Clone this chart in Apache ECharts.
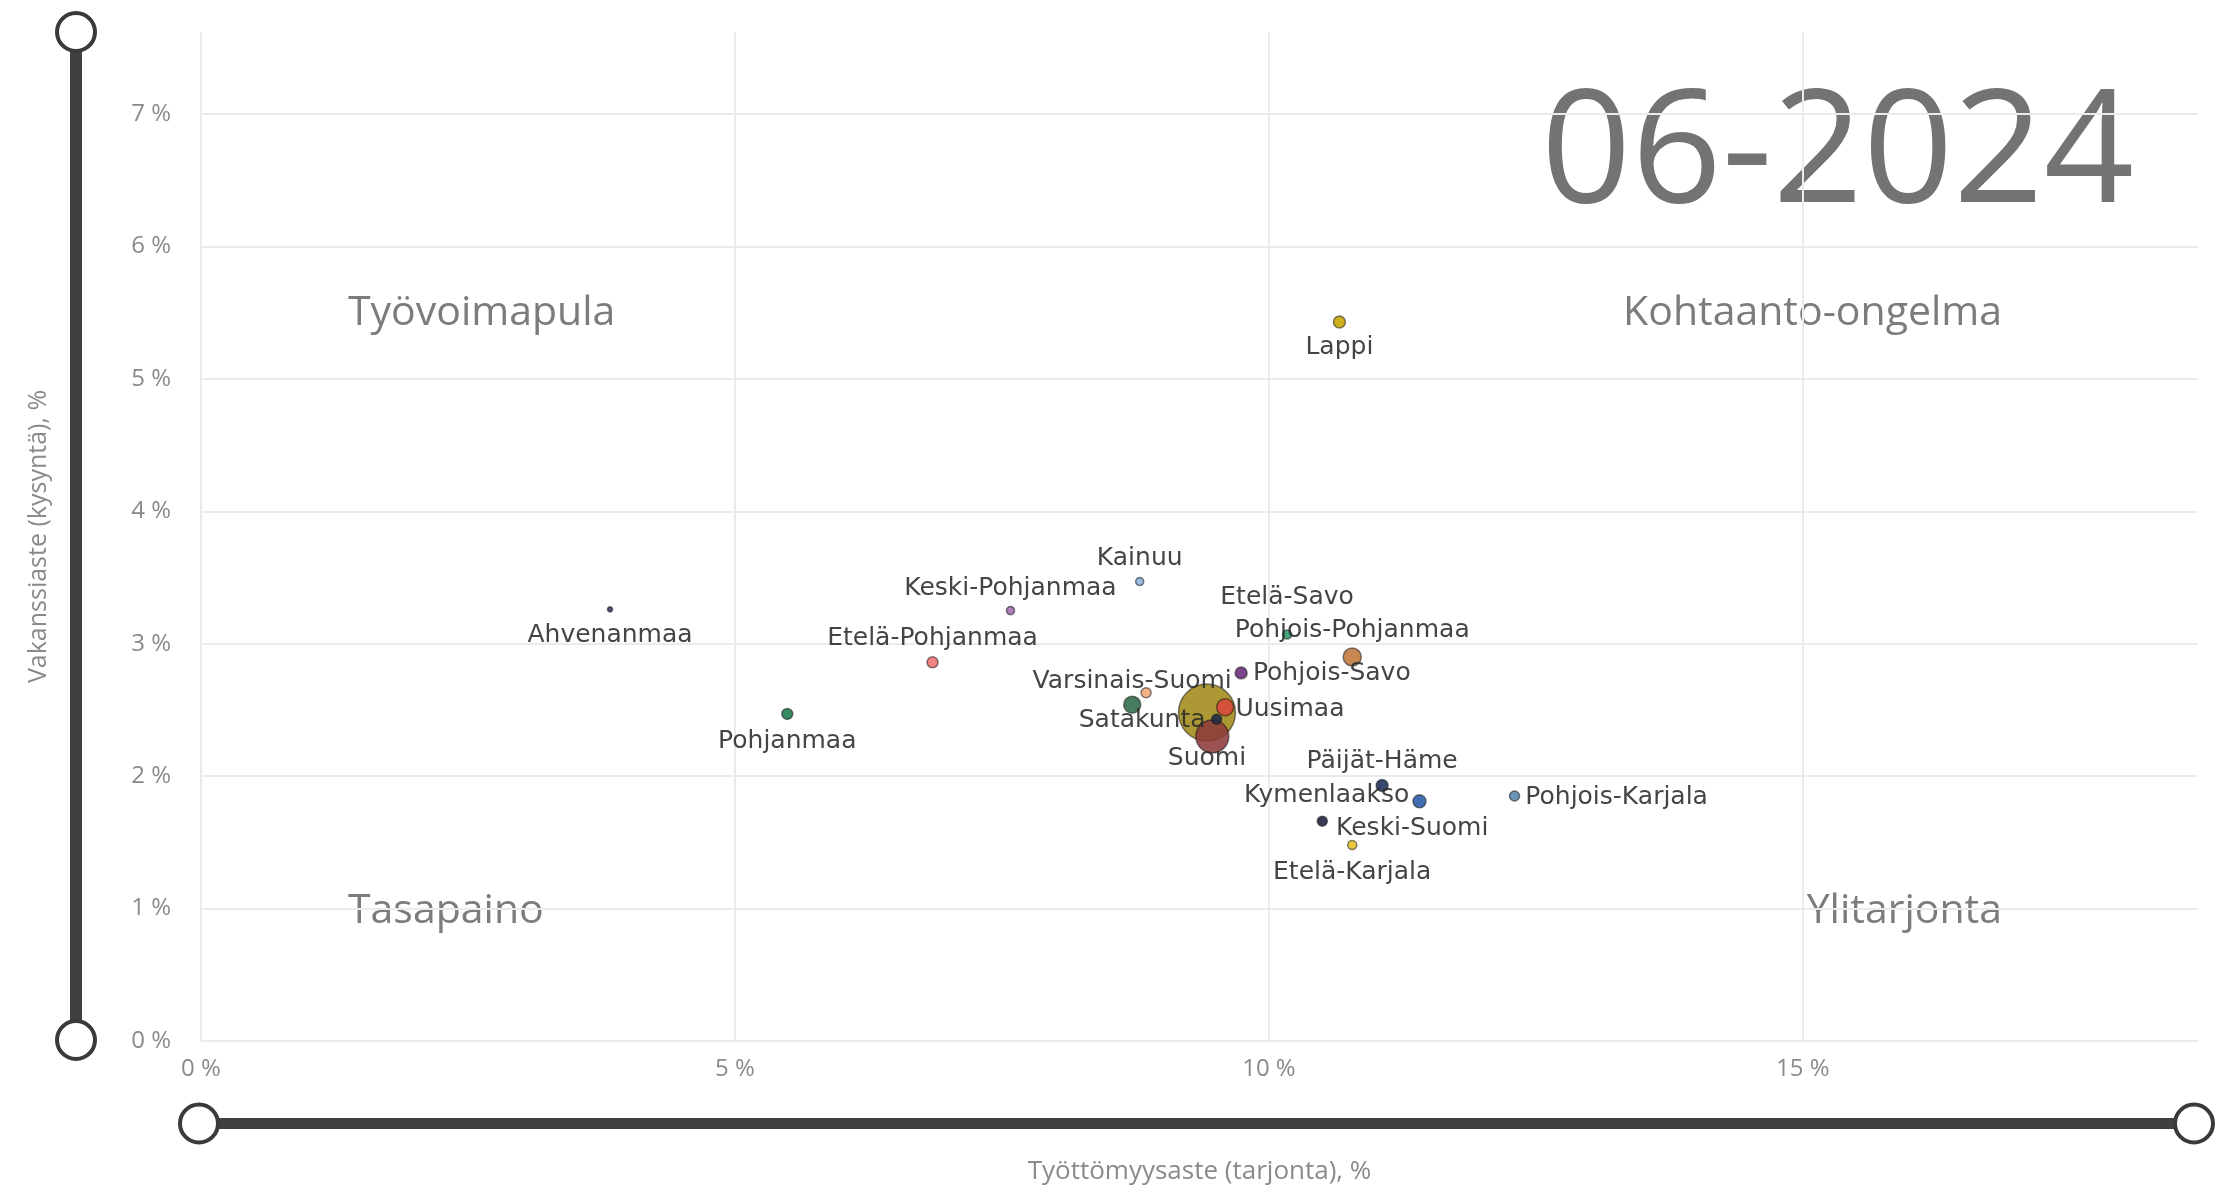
<!DOCTYPE html>
<html>
<head>
<meta charset="utf-8">
<title>Vakanssiaste ja työttömyysaste 06-2024</title>
<script src="https://cdn.jsdelivr.net/npm/echarts@6/dist/echarts.min.js"></script>
<style>
  html, body { margin: 0; padding: 0; background: #fff; }
  #chart { width: 2216px; height: 1187px; }
</style>
</head>
<body>
<div id="chart"></div>
<script>
// maakunnat + koko maa (piirtojärjestys: isot kuplat ensin)
var regions = ['Suomi', 'Pirkanmaa', 'Uusimaa', 'Kanta-Häme', 'Varsinais-Suomi', 'Satakunta',
  'Lappi', 'Kainuu', 'Keski-Pohjanmaa', 'Ahvenanmaa', 'Etelä-Pohjanmaa', 'Pohjanmaa',
  'Etelä-Savo', 'Pohjois-Pohjanmaa', 'Pohjois-Savo', 'Päijät-Häme', 'Kymenlaakso',
  'Pohjois-Karjala', 'Keski-Suomi', 'Etelä-Karjala']
// työttömyysaste (tarjonta), %
var unemploymentRate = [9.42, 9.47, 9.59, 9.51, 8.72, 8.85,
  10.66, 8.79, 7.58, 3.83, 6.85, 5.49,
  10.17, 10.78, 9.74, 11.06, 11.41,
  12.30, 10.50, 10.78]
// vakanssiaste (kysyntä), %
var vacancyRate = [2.48, 2.30, 2.52, 2.43, 2.54, 2.63,
  5.43, 3.47, 3.25, 3.26, 2.86, 2.47,
  3.07, 2.90, 2.78, 1.93, 1.81,
  1.85, 1.66, 1.48]
// kuplan koko, suhteellinen (Suomi = 100)
var bubbleSize = [100, 33.5, 8.9, 3.1, 8.9, 3.1,
  4.4, 2.0, 2.0, 0.8, 3.7, 3.7,
  2.5, 10, 4.4, 4.4, 5.2,
  3.1, 3.1, 2.5]
var xTicks = [0, 5, 10, 15]
var yTicks = [0, 1, 2, 3, 4, 5, 6, 7]
var period = '06-2024'
var quadrantNames = ['Työvoimapula', 'Kohtaanto-ongelma', 'Tasapaino', 'Ylitarjonta']

// värit
var colors = {
  'Suomi': '#a08a18',
  'Pirkanmaa': '#8c3a3a',
  'Uusimaa': '#d8483a',
  'Kanta-Häme': '#1e2a48',
  'Varsinais-Suomi': '#2e6a4a',
  'Satakunta': '#f0a878',
  'Lappi': '#c9a400',
  'Kainuu': '#8db3d9',
  'Keski-Pohjanmaa': '#a070b0',
  'Ahvenanmaa': '#3a3a6a',
  'Etelä-Pohjanmaa': '#f07070',
  'Pohjanmaa': '#1d7a50',
  'Etelä-Savo': '#2a9a68',
  'Pohjois-Pohjanmaa': '#c0783c',
  'Pohjois-Savo': '#6a2c80',
  'Päijät-Häme': '#1e2c5c',
  'Kymenlaakso': '#2a5aa8',
  'Pohjois-Karjala': '#5a88b0',
  'Keski-Suomi': '#1a2040',
  'Etelä-Karjala': '#e8c020'
}

// nimilappujen sijoittelu (puuttuva = ei nimeä)
var labelPlace = {
  'Suomi': { position: 'inside', offset: [0, 46] },
  'Uusimaa': { position: 'right', distance: 1, offset: [0, 2] },
  'Varsinais-Suomi': { position: 'inside', offset: [0, -23] },
  'Satakunta': { position: 'inside', offset: [-4, 28] },
  'Lappi': { position: 'inside', offset: [0, 26] },
  'Kainuu': { position: 'inside', offset: [0, -23] },
  'Keski-Pohjanmaa': { position: 'inside', offset: [0, -22] },
  'Ahvenanmaa': { position: 'inside', offset: [0, 26] },
  'Etelä-Pohjanmaa': { position: 'inside', offset: [0, -24] },
  'Pohjanmaa': { position: 'inside', offset: [0, 28] },
  'Etelä-Savo': { position: 'inside', offset: [0, -37] },
  'Pohjois-Pohjanmaa': { position: 'inside', offset: [0, -26] },
  'Pohjois-Savo': { position: 'right', distance: 5, offset: [0, 1] },
  'Päijät-Häme': { position: 'inside', offset: [0, -24] },
  'Kymenlaakso': { position: 'left', distance: 3, offset: [0, -6] },
  'Pohjois-Karjala': { position: 'right', distance: 5, offset: [0, 1] },
  'Keski-Suomi': { position: 'right', distance: 8, offset: [0, 7] },
  'Etelä-Karjala': { position: 'inside', offset: [0, 27] }
}

var pointData = regions.map(function (name, i) {
  var place = labelPlace[name]
  var label = place ? Object.assign({ show: true }, place) : { show: false }
  return {
    name: name,
    value: [unemploymentRate[i], vacancyRate[i], bubbleSize[i]],
    itemStyle: { color: colors[name] },
    label: label
  }
})

var sliderCommon = {
  type: 'slider',
  filterMode: 'none',
  start: 0,
  end: 100,
  showDetail: false,
  showDataShadow: false,
  brushSelect: false,
  zoomLock: true,
  backgroundColor: 'transparent',
  borderColor: 'transparent',
  fillerColor: '#404040',
  handleIcon: 'circle',
  handleSize: 38,
  handleStyle: { color: '#fff', borderColor: '#3a3a3a', borderWidth: 4 },
  moveHandleSize: 0
}

var axisText = { fontFamily: 'Open Sans', color: '#8a8a8a' }

var myChart = echarts.init(document.getElementById('chart'))
var option = {
  backgroundColor: '#fff',
  animation: false,
  grid: { left: 201, right: 18, top: 32, bottom: 146, containLabel: false, outerBoundsMode: 'none' },
  xAxis: {
    type: 'value',
    min: 0,
    max: 18.7,
    interval: 5,
    name: 'Työttömyysaste (tarjonta), %',
    nameLocation: 'middle',
    nameGap: 118,
    nameMoveOverlap: false,
    nameTextStyle: { fontFamily: 'Open Sans', fontSize: 26, color: '#8a8a8a' },
    axisLine: { show: false },
    axisTick: { show: false },
    axisLabel: Object.assign({ fontSize: 24, margin: 16, showMaxLabel: false, formatter: '{value} %' }, axisText),
    splitLine: { show: true, showMinLine: true, showMaxLine: false, lineStyle: { color: '#ebebeb', width: 2 } }
  },
  yAxis: {
    type: 'value',
    min: 0,
    max: 7.62,
    interval: 1,
    name: 'Vakanssiaste (kysyntä), %',
    nameLocation: 'middle',
    nameGap: 150,
    nameMoveOverlap: false,
    nameTextStyle: { fontFamily: 'Open Sans', fontSize: 25, color: '#8a8a8a' },
    axisLine: { show: false },
    axisTick: { show: false },
    axisLabel: Object.assign({ fontSize: 24, margin: 30, showMaxLabel: false, formatter: '{value} %' }, axisText),
    splitLine: { show: true, showMinLine: true, showMaxLine: false, lineStyle: { color: '#ebebeb', width: 2 } }
  },
  dataZoom: [
    Object.assign({ xAxisIndex: 0, orient: 'horizontal', left: 195, width: 1997, top: 1118, height: 11 }, sliderCommon),
    Object.assign({ yAxisIndex: 0, orient: 'vertical', left: 68, width: 12, top: 31, height: 1010 }, sliderCommon)
  ],
  graphic: [
    { type: 'text', right: 82, top: 78, silent: true,
      style: { text: period, fontFamily: 'Open Sans', fontSize: 158, fill: '#737373' } },
    { type: 'text', x: 348, y: 313, silent: true,
      style: { text: quadrantNames[0], fontFamily: 'Open Sans', fontSize: 41, fill: '#7c7c7c', align: 'left', verticalAlign: 'middle' } },
    { type: 'text', x: 2002, y: 313, silent: true,
      style: { text: quadrantNames[1], fontFamily: 'Open Sans', fontSize: 41, fill: '#7c7c7c', align: 'right', verticalAlign: 'middle' } },
    { type: 'text', x: 348, y: 911, silent: true,
      style: { text: quadrantNames[2], fontFamily: 'Open Sans', fontSize: 41, fill: '#7c7c7c', align: 'left', verticalAlign: 'middle' } },
    { type: 'text', x: 2002, y: 911, silent: true,
      style: { text: quadrantNames[3], fontFamily: 'Open Sans', fontSize: 41, fill: '#7c7c7c', align: 'right', verticalAlign: 'middle' } }
  ],
  series: [{
    type: 'scatter',
    data: pointData,
    symbolSize: function (val) {
      return 5.7 * Math.sqrt(val[2])
    },
    itemStyle: { opacity: 0.88, borderColor: 'rgba(20,20,20,0.6)', borderWidth: 1.5 },
    label: {
      formatter: '{b}',
      fontFamily: 'DejaVu Sans',
      fontSize: 25,
      color: '#2a2a2a',
      textBorderWidth: 0
    },
    emphasis: { disabled: true }
  }]
}
myChart.setOption(option)
</script>
</body>
</html>
